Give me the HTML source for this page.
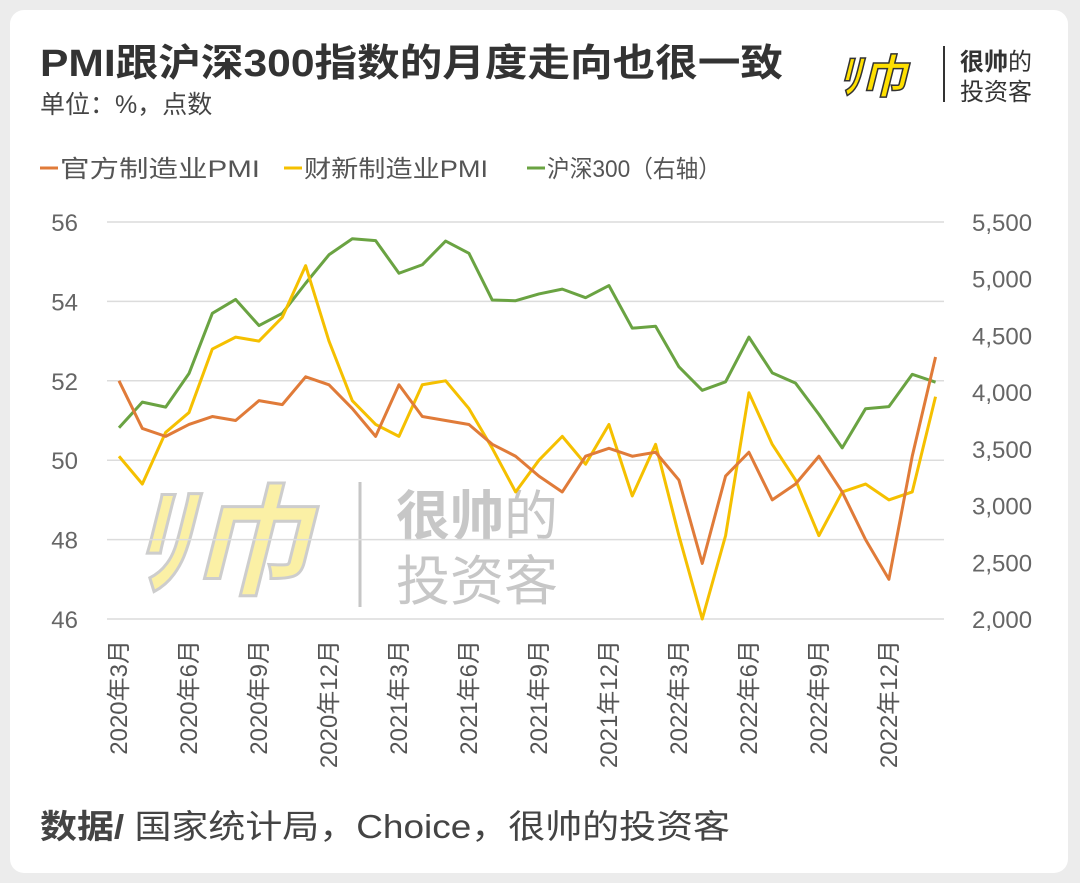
<!DOCTYPE html>
<html><head><meta charset="utf-8"><style>
body{margin:0;width:1080px;height:883px;background:#ececec;font-family:"Liberation Sans","Noto Sans CJK SC",sans-serif;overflow:hidden}
#card{position:absolute;left:10px;top:10px;width:1058px;height:863px;background:#fff;border-radius:14px}
</style></head><body>
<div id="card"></div>
<svg width="1080" height="883" style="position:absolute;left:0;top:0" id="svg" font-family="Liberation Sans, Noto Sans CJK SC, sans-serif">
<text x="40" y="76" font-size="38" font-weight="bold" fill="#333" textLength="743" lengthAdjust="spacingAndGlyphs">PMI跟沪深300指数的月度走向也很一致</text>
<text x="40" y="113" font-size="25" fill="#444">单位：%，点数</text>
<g>
<text x="838" y="93" font-size="46" font-weight="bold" font-style="italic" fill="#ffe000" stroke="#333" stroke-width="1.5">ﾘ巾</text>
<line x1="944" y1="46" x2="944" y2="102" stroke="#333" stroke-width="2"/>
<text x="960" y="70" font-size="24" font-weight="bold" fill="#333">很帅<tspan font-weight="normal">的</tspan></text>
<text x="960" y="100" font-size="24" fill="#333">投资客</text>
</g>
<g opacity="0.9">
<text x="130" y="585" font-size="120" font-weight="bold" font-style="italic" fill="#fbef9c" stroke="#c8c8c8" stroke-width="3">ﾘ巾</text>
<line x1="360" y1="482" x2="360" y2="607" stroke="#c0c0c0" stroke-width="3"/>
<text x="396" y="535" font-size="54" font-weight="bold" fill="#c2c2c2">很帅<tspan font-weight="normal">的</tspan></text>
<text x="396" y="600" font-size="54" fill="#c2c2c2">投资客</text>
</g>
<g font-size="24" fill="#555">
<line x1="40" y1="168" x2="58" y2="168" stroke="#e07b39" stroke-width="3"/><text x="60" y="177" textLength="200" lengthAdjust="spacingAndGlyphs">官方制造业PMI</text>
<line x1="284" y1="168" x2="302" y2="168" stroke="#f5c000" stroke-width="3"/><text x="304" y="177" textLength="184" lengthAdjust="spacingAndGlyphs">财新制造业PMI</text>
<line x1="527" y1="168" x2="545" y2="168" stroke="#6aa342" stroke-width="3"/><text x="547" y="177" textLength="174" lengthAdjust="spacingAndGlyphs">沪深300（右轴）</text>
</g>
<g id="grid"></g><g id="lines"></g>
<text x="40" y="838" font-size="33" fill="#444" textLength="690" lengthAdjust="spacingAndGlyphs"><tspan font-weight="bold">数据/</tspan> 国家统计局，Choice，很帅的投资客</text>
</svg>
<script>
const months=["2020年3月","2020年4月","2020年5月","2020年6月","2020年7月","2020年8月","2020年9月","2020年10月","2020年11月","2020年12月","2021年1月","2021年2月","2021年3月","2021年4月","2021年5月","2021年6月","2021年7月","2021年8月","2021年9月","2021年10月","2021年11月","2021年12月","2022年1月","2022年2月","2022年3月","2022年4月","2022年5月","2022年6月","2022年7月","2022年8月","2022年9月","2022年10月","2022年11月","2022年12月","2023年1月","2023年2月"];
const officialPMI=[52.0,50.8,50.6,50.9,51.1,51.0,51.5,51.4,52.1,51.9,51.3,50.6,51.9,51.1,51.0,50.9,50.4,50.1,49.6,49.2,50.1,50.3,50.1,50.2,49.5,47.4,49.6,50.2,49.0,49.4,50.1,49.2,48.0,47.0,50.1,52.6];
const caixinPMI=[50.1,49.4,50.7,51.2,52.8,53.1,53.0,53.6,54.9,53.0,51.5,50.9,50.6,51.9,52.0,51.3,50.3,49.2,50.0,50.6,49.9,50.9,49.1,50.4,48.1,46.0,48.1,51.7,50.4,49.5,48.1,49.2,49.4,49.0,49.2,51.6];
const csi300=[3686,3912,3868,4164,4695,4817,4587,4695,4960,5211,5352,5336,5048,5123,5332,5224,4812,4806,4866,4908,4833,4940,4564,4581,4223,4016,4091,4485,4170,4079,3804,3509,3854,3872,4157,4088];
const leftTicks=[46,48,50,52,54,56];
const rightTicks=[2000,2500,3000,3500,4000,4500,5000,5500];
const tickLabels=["2020年3月","2020年6月","2020年9月","2020年12月","2021年3月","2021年6月","2021年9月","2021年12月","2022年3月","2022年6月","2022年9月","2022年12月"];
const NS="http://www.w3.org/2000/svg";
const plotTop=222,plotBot=619;
const xs=i=>119+i*23.33;
const yL=v=>plotBot-(v-46)/10*(plotBot-plotTop);
const yR=v=>plotBot-(v-2000)/3500*(plotBot-plotTop);
const grid=document.getElementById('grid'),lines=document.getElementById('lines');
function mk(t,a,p){const e=document.createElementNS(NS,t);for(const k in a)e.setAttribute(k,a[k]);p.appendChild(e);return e;}
leftTicks.forEach(v=>{
 const l=mk('line',{x1:107,x2:944,y1:yL(v),y2:yL(v),stroke:'#dcdcdc','stroke-width':1.5},grid);
 
 
 const t=mk('text',{x:78,y:yL(v)+9,'font-size':24,fill:'#666','text-anchor':'end'},grid);t.textContent=v;
 
 
});
rightTicks.forEach(v=>{
 const t=mk('text',{x:972,y:yR(v)+9,'font-size':24,fill:'#666'},grid);t.textContent=v.toLocaleString('en-US');
 
 
});
tickLabels.forEach(m=>{
 const i=months.indexOf(m);
 const t=mk('text',{x:0,y:0,'font-size':24,fill:'#555','text-anchor':'end',transform:`translate(${xs(i)+8},640) rotate(-90)`},grid);t.textContent=m;
 
 
});
function series(vals,f,c,name){
 const p=mk('polyline',{points:vals.map((v,i)=>xs(i)+','+f(v)).join(' '),fill:'none',stroke:c,'stroke-width':3,'stroke-linejoin':'round'},lines);
 
 
}
series(csi300,yR,'#6aa342','csi300-line');
series(caixinPMI,yL,'#f5c000','caixin-pmi-line');
series(officialPMI,yL,'#e07b39','official-pmi-line');
</script>
</body></html>
